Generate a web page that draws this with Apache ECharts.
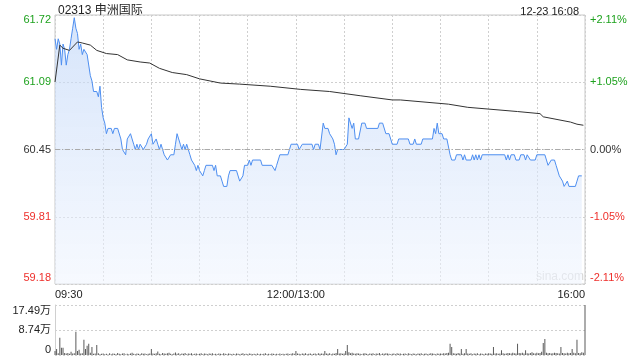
<!DOCTYPE html>
<html><head><meta charset="utf-8">
<script src="https://cdn.jsdelivr.net/npm/echarts@6/dist/echarts.min.js"></script>
<style>html,body{margin:0;padding:0;background:#fff}#c{width:640px;height:360px}</style>
</head><body><div id="c"></div>
<script>
// ---- data ----
const stockTitle = '02313 申洲国际';
const stampText = '12-23 16:08';
const prevClose = 60.45;
// minutes since 09:30 (trading minutes, lunch break removed)
const priceMinute = [0,1,2,3,4,5,6,7,8,9,10,11,12,13,14,15,16,17,18,19,20,21,22,23,24,26,27,28,29,30,31,32,33,34,35,36,37,38,39,40,41,42,44,45,46,47,48,49,50,51,52,53,54,55,56,57,58,59,60,61,62,63,64,65,66,67,68,70,72,74,75,76,77,78,79,80,81,82,83,84,85,86,87,88,89,90,91,92,93,94,98,99,100,101,103,104,105,107,108,109,113,115,116,117,118,120,121,122,123,128,129,135,137,138,140,145,147,151,152,154,160,161,162,164,165,167,168,170,171,173,174,175,176,180,182,183,184,185,186,187,189,191,193,194,201,202,204,206,208,210,211,213,214,220,221,223,224,225,228,229,235,236,237,238,239,241,242,244,246,247,249,250,253,254,255,256,259,260,261,262,263,264,265,266,280,281,282,283,284,286,287,289,290,292,293,294,295,296,299,300,305,306,307,309,311,312,314,316,317,319,320,324,325,326,328];
const price = [61.50,61.40,61.50,61.45,61.25,61.45,61.40,61.25,61.35,61.40,61.50,61.60,61.70,61.60,61.55,61.40,61.45,61.35,61.40,61.40,61.35,61.35,61.15,61.10,61.00,61.00,60.95,61.05,60.85,60.75,60.70,60.60,60.65,60.65,60.65,60.60,60.65,60.65,60.65,60.65,60.55,60.45,60.40,60.55,60.55,60.60,60.55,60.50,60.45,60.50,60.45,60.50,60.50,60.45,60.45,60.50,60.55,60.55,60.60,60.50,60.50,60.55,60.50,60.45,60.50,60.45,60.40,60.35,60.40,60.40,60.50,60.60,60.55,60.50,60.45,60.50,60.45,60.50,60.45,60.40,60.35,60.35,60.30,60.25,60.30,60.25,60.25,60.20,60.25,60.30,60.30,60.25,60.30,60.20,60.20,60.15,60.10,60.10,60.20,60.25,60.25,60.15,60.15,60.20,60.30,60.30,60.35,60.30,60.35,60.35,60.30,60.30,60.25,60.30,60.40,60.40,60.50,60.50,60.45,60.50,60.50,60.45,60.50,60.50,60.45,60.70,60.65,60.65,60.60,60.55,60.50,60.40,60.45,60.45,60.50,60.75,60.75,60.65,60.70,60.55,60.55,60.70,60.70,60.65,60.65,60.70,60.70,60.60,60.60,60.50,60.50,60.50,60.55,60.55,60.50,60.50,60.55,60.50,60.50,60.55,60.55,60.65,60.60,60.70,60.60,60.60,60.55,60.55,60.40,60.35,60.35,60.40,60.40,60.35,60.40,60.35,60.35,60.40,60.35,60.40,60.35,60.40,60.35,60.40,60.40,60.35,60.40,60.35,60.40,60.40,60.35,60.35,60.40,60.40,60.35,60.40,60.40,60.35,60.35,60.40,60.40,60.35,60.30,60.35,60.35,60.30,60.20,60.15,60.10,60.15,60.10,60.10,60.15,60.20,60.20];
const avgMinute = [0,3,5,9,14,17,22,26,32,39,45,53,59,65,73,82,90,103,115,134,153,171,190,210,215,245,257,288,302,304,321,325,329];
const avgPrice = [61.09,61.44,61.41,61.39,61.47,61.46,61.44,61.39,61.36,61.35,61.30,61.28,61.27,61.22,61.18,61.16,61.12,61.08,61.07,61.05,61.02,61.00,60.96,60.92,60.92,60.88,60.85,60.81,60.79,60.76,60.71,60.69,60.68];
// volume per trading minute, in 万 shares
const volume = [
1.4,2.1,0.6,6.0,2.5,2.5,0.7,0.5,0.7,0.4,1.1,0.5,0.6,8.1,1.4,1.8,0.5,0.6,5.3,2.1,3.2,3.9,0.8,2.8,0.4,0.5,3.5,0.6,0.3,0.4,
0.5,0.3,0.4,0.2,0.6,0.3,0.5,0.4,0.3,0.7,0.4,0.3,0.5,0.6,0.2,0.4,0.3,0.5,0.8,0.4,0.3,0.5,0.4,0.3,0.6,0.4,0.5,0.3,0.4,0.5,
2.1,0.5,0.4,0.6,1.2,0.4,0.3,0.7,0.5,0.4,0.6,0.8,0.4,0.3,0.5,0.9,0.4,0.6,0.3,0.5,0.4,0.7,0.3,0.5,0.4,0.6,0.3,0.4,0.5,0.3,
0.4,0.6,0.3,0.5,0.4,0.3,0.5,0.4,0.6,0.3,0.4,0.3,0.5,0.4,0.3,0.6,0.4,0.3,0.5,0.4,0.3,0.4,0.3,0.5,0.4,0.3,0.4,0.6,0.3,0.4,
0.3,0.5,0.4,0.3,0.4,0.3,0.5,0.3,0.4,0.3,0.4,0.6,0.3,0.4,0.3,0.5,0.4,0.3,0.4,0.3,0.5,0.3,0.4,0.3,0.4,0.5,0.3,0.4,0.6,0.4,
1.4,0.5,0.4,0.3,0.5,0.4,0.6,0.3,0.4,0.5,0.3,0.4,0.5,0.3,0.6,0.4,0.5,0.4,1.4,0.5,0.4,0.6,0.3,0.5,0.4,0.7,2.1,0.5,0.6,0.4,
0.5,1.4,3.5,1.0,0.6,0.8,0.5,0.4,0.6,0.5,0.4,0.3,0.5,0.6,0.4,0.3,0.5,0.4,0.6,0.3,0.5,0.4,0.7,0.3,0.5,0.4,0.6,0.5,0.4,0.3,
0.4,0.5,0.3,0.6,0.4,0.5,0.3,0.4,0.5,0.3,0.6,0.4,0.3,0.5,0.4,0.3,0.5,0.4,0.6,0.3,0.4,0.5,0.3,0.4,0.6,0.5,0.4,0.3,0.5,0.4,
0.5,0.4,0.6,0.5,0.7,0.8,3.9,2.8,0.6,0.5,0.4,0.7,0.5,2.1,0.4,0.6,2.1,0.5,0.4,0.6,0.3,0.5,0.4,0.6,0.3,0.5,0.4,0.3,0.5,0.4,
0.6,0.5,0.4,2.8,0.5,0.6,0.4,0.5,1.7,0.6,0.4,0.5,0.7,0.6,0.5,0.8,0.6,0.5,3.9,0.7,0.6,0.8,0.5,1.7,0.6,0.5,0.7,1.0,0.6,0.5,
0.8,0.6,0.7,1.1,4.2,5.6,0.8,0.6,0.7,0.5,0.6,0.8,0.7,0.6,0.5,2.8,0.7,0.6,0.5,0.8,0.6,0.7,2.1,0.8,0.6,5.3,0.7,0.6,1.0,0.8,17.49
];
const pctTicks = [-2.11, -1.055, 0, 1.055, 2.11];
const priceTickLabels = ['59.18', '59.81', '60.45', '61.09', '61.72'];
const pctTickLabels = ['-2.11%', '-1.05%', '0.00%', '+1.05%', '+2.11%'];
const timeTickMinute = [0, 150, 330];
const timeTickLabels = ['09:30', '12:00/13:00', '16:00'];
const volTickLabels = ['0', '8.74万', '17.49万'];
const volMax = 17.49;
const watermark = 'sina.com';

// ---- chart ----
const GREEN = '#1ea21e', RED = '#ee2f2b', DARK = '#333';
const tickColors = [RED, RED, DARK, GREEN, GREEN];
const toPct = p => (p / prevClose - 1) * 100;
const tickIdx = v => Math.round((v - pctTicks[0]) / (pctTicks[1] - pctTicks[0]));
const FONT = '"Liberation Sans", Arial, "Noto Sans CJK SC", sans-serif';

function yLabel(labels) {
  return {
    fontSize: 11, fontFamily: FONT,
    formatter: v => { const i = tickIdx(v); return '{c' + i + '|' + labels[i] + '}'; },
    rich: Object.fromEntries(tickColors.map((c, i) => ['c' + i, {
      color: c, fontSize: 11, fontFamily: FONT,
      padding: i === 0 ? [0, 0, 12, 0] : (i === 4 ? [10, 0, 0, 0] : 0)
    }]))
  };
}

const chart = echarts.init(document.getElementById('c'), null, {renderer: 'canvas'});
chart.setOption({
  animation: false,
  textStyle: {fontFamily: FONT},
  title: [
    {text: stockTitle, left: 53, top: 0, textStyle: {fontSize: 12, fontWeight: 'normal', color: '#222', fontFamily: FONT}},
    {text: stampText, right: 56, top: 1, textStyle: {fontSize: 11, fontWeight: 'normal', color: '#222', fontFamily: FONT}}
  ],
  graphic: [{type: 'text', left: 536, top: 271, style: {text: watermark, fill: '#d6d6d6', fontSize: 12, fontFamily: FONT}}],
  grid: [
    {left: 55, right: 55, top: 15, height: 269, show: true, borderColor: '#c8c8c8', borderWidth: 1, backgroundColor: 'transparent'},
    {left: 55, right: 55, top: 305, height: 50}
  ],
  xAxis: [
    {type: 'value', gridIndex: 0, min: 0, max: 330, interval: 30,
     axisLine: {show: false}, axisTick: {show: false},
     splitLine: {show: true, lineStyle: {color: '#cfcfcf', type: [2, 2]}},
     axisLabel: {fontSize: 11, color: '#222', margin: 5, fontFamily: FONT, alignMinLabel: 'left', alignMaxLabel: 'right',
       formatter: v => { const i = timeTickMinute.indexOf(v); return i >= 0 ? timeTickLabels[i] : ''; }}},
    {type: 'value', gridIndex: 1, min: 0, max: 330,
     axisLine: {show: false}, axisTick: {show: false}, axisLabel: {show: false}, splitLine: {show: false}}
  ],
  yAxis: [
    {type: 'value', gridIndex: 0, position: 'left', min: pctTicks[0], max: pctTicks[4], interval: pctTicks[1] - pctTicks[0],
     axisLine: {show: false}, axisTick: {show: false}, axisLabel: Object.assign(yLabel(priceTickLabels), {margin: 4}),
     splitLine: {show: true, lineStyle: {color: '#cfcfcf', type: [2, 2]}}},
    {type: 'value', gridIndex: 0, position: 'right', min: pctTicks[0], max: pctTicks[4], interval: pctTicks[1] - pctTicks[0],
     axisLine: {show: false}, axisTick: {show: false}, axisLabel: Object.assign(yLabel(pctTickLabels), {margin: 5}),
     splitLine: {show: false}},
    {type: 'value', gridIndex: 1, min: 0, max: volMax, interval: volMax / 2,
     axisLine: {show: true, lineStyle: {color: '#d0d0d0'}}, axisTick: {show: false},
     axisLabel: {fontSize: 11, margin: 4, fontFamily: FONT,
       formatter: v => { const i = Math.round(v / (volMax / 2)); return '{v' + i + '|' + volTickLabels[i] + '}'; },
       rich: {v0: {color: '#222', fontSize: 11, padding: [0, 0, 10, 0]}, v1: {color: '#222', fontSize: 11}, v2: {color: '#222', fontSize: 11, padding: [12, 0, 0, 0]}}},
     splitLine: {show: true, lineStyle: {color: '#cfcfcf', type: [2, 2]}}}
  ],
  series: [
    {type: 'line', xAxisIndex: 0, yAxisIndex: 0, symbol: 'none', z: 3,
     data: priceMinute.map((m, i) => [m, toPct(price[i])]),
     lineStyle: {color: '#4d8ef0', width: 1},
     areaStyle: {origin: 'start', color: new echarts.graphic.LinearGradient(0, 0, 0, 1, [
       {offset: 0, color: 'rgba(190,213,248,0.9)'}, {offset: 1, color: 'rgba(240,245,254,0.8)'}])},
     markLine: {silent: true, symbol: 'none', label: {show: false},
       lineStyle: {color: '#aaaaaa', type: [5, 2, 1, 2], width: 1}, data: [{yAxis: 0}]}},
    {type: 'line', xAxisIndex: 0, yAxisIndex: 0, symbol: 'none', z: 4,
     data: avgMinute.map((m, i) => [m, toPct(avgPrice[i])]),
     lineStyle: {color: '#333', width: 1}},
    {type: 'bar', xAxisIndex: 1, yAxisIndex: 2, barWidth: 1,
     data: volume.map((v, i) => [i, v]),
     itemStyle: {color: '#5a5a5a'}}
  ]
});
</script></body></html>
